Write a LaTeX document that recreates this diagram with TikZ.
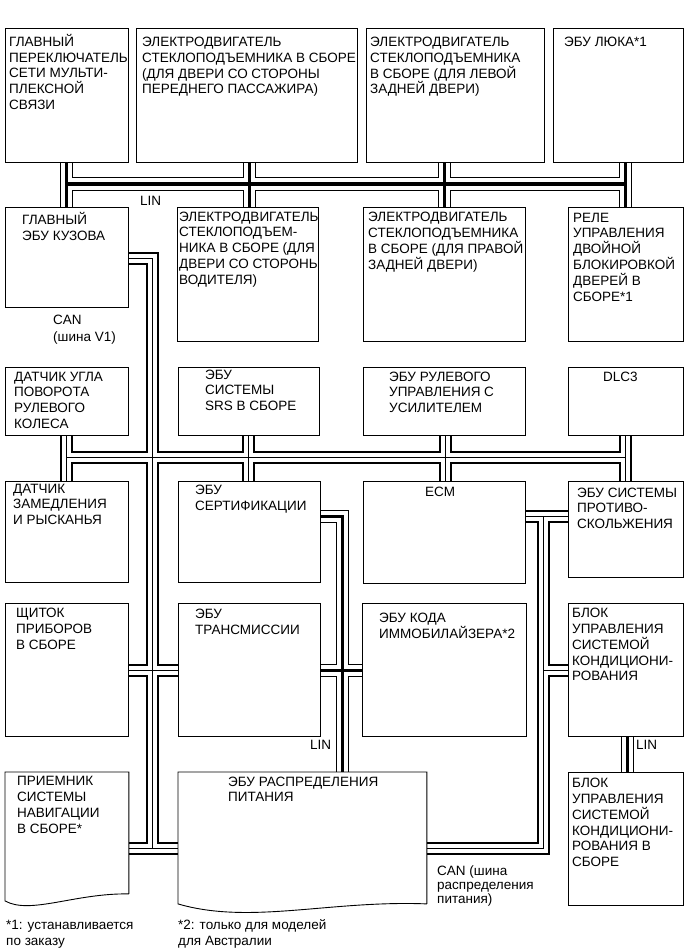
\documentclass[tikz,border=0pt]{standalone}
\usepackage{fontspec}
\setmainfont{Liberation Sans}
\usetikzlibrary{calc,backgrounds}

\begin{document}
\begin{tikzpicture}[x=1pt,y=-1pt,
  ecu/.style={draw,line width=0.9pt,fill=white,anchor=north west,inner sep=0pt},
  txt/.style={anchor=base west,align=left,inner sep=0pt,font=\fontsize{13.5}{15.8}\selectfont},
  lbl/.style={anchor=base west,align=left,inner sep=0pt,font=\fontsize{13.5}{14.2}\selectfont}]
  \useasboundingbox (0,0) rectangle (691,952);

  % boxes
  \node[ecu,minimum width=123,minimum height=134] (mpx) at (5,28) {};
  \node[ecu,minimum width=221,minimum height=134] (pwp) at (136,28) {};
  \node[ecu,minimum width=178,minimum height=134] (pwrl) at (366,28) {};
  \node[ecu,minimum width=130,minimum height=134] (sroof) at (553,28) {};

  \node[ecu,minimum width=123,minimum height=100] (bcm) at (5,207) {};
  \node[ecu,minimum width=141,minimum height=134] (pwd) at (177,207) {};
  \node[ecu,minimum width=162,minimum height=134] (pwrr) at (363,207) {};
  \node[ecu,minimum width=115,minimum height=134] (dlock) at (568,207) {};

  \node[ecu,minimum width=123,minimum height=68] (str) at (5,367) {};
  \node[ecu,minimum width=141,minimum height=68] (srs) at (178,367) {};
  \node[ecu,minimum width=162,minimum height=68] (eps) at (363,367) {};
  \node[ecu,minimum width=115,minimum height=68] (dlc) at (568,367) {};

  \node[ecu,minimum width=123,minimum height=101] (yaw) at (5,481) {};
  \node[ecu,minimum width=142,minimum height=101] (cert) at (178,481) {};
  \node[ecu,minimum width=162,minimum height=102] (ecm) at (363,481) {};
  \node[ecu,minimum width=115,minimum height=96] (vsc) at (568,481) {};

  \node[ecu,minimum width=123,minimum height=133] (meter) at (5,603) {};
  \node[ecu,minimum width=142,minimum height=133] (tcm) at (178,603) {};
  \node[ecu,minimum width=164,minimum height=133] (immo) at (362,603) {};
  \node[ecu,minimum width=115,minimum height=133] (acamp) at (568,603) {};

  \node[ecu,draw=none,minimum width=123,minimum height=121] (nav) at (5,772) {};
  \node[ecu,draw=none,minimum width=248,minimum height=131] (pdc) at (178,772) {};
  \node[ecu,minimum width=115,minimum height=133] (acunit) at (568,772) {};

  \draw[line width=0.9pt,fill=white] (nav.south east) -- (nav.north east) -- (nav.north west)
    -- ($(nav.south west)+(0,7)$) .. controls (30,915) and (75,893) .. (nav.south east);
  \draw[line width=0.9pt,fill=white] (pdc.south east) -- (pdc.north east) -- (pdc.north west)
    -- (pdc.south west) .. controls (250,925) and (330,900) .. (pdc.south east);

  % bus points
  \coordinate (lin1) at (66,184);
  \coordinate (lin2) at (249,184);
  \coordinate (lin3) at (444,184);
  \coordinate (lin4) at (625,184);
  \coordinate (v1a) at (152.5,258);
  \coordinate (v1b) at (152.5,848);
  \coordinate (v1c) at (152.5,670);
  \coordinate (can1) at (66,457);
  \coordinate (can2) at (248,457);
  \coordinate (can3) at (445,457);
  \coordinate (can4) at (625,457);
  \coordinate (lm1) at (342,516.5);
  \coordinate (lm2) at (342,670);
  \coordinate (pw1) at (543,516.5);
  \coordinate (pw2) at (543,670);
  \coordinate (pw3) at (543,848);
  \coordinate (ac1) at (627,754);

  \begin{scope}[on background layer]
    % LIN lines
    \foreach \w/\col in {13/black,11/white,3/black}
      \draw[line width=\w,\col] (mpx.south -| lin1) -- (bcm.north -| lin1)
        (lin1) -- (lin4)
        (pwp.south -| lin2) -- (pwd.north -| lin2)
        (pwrl.south -| lin3) -- (pwrr.north -| lin3)
        (sroof.south -| lin4) -- (dlock.north -| lin4)
        (cert.east |- lm1) -- (lm1) -- (pdc.north -| lm1)
        (tcm.east |- lm2) -- (immo.west |- lm2)
        (acamp.south -| ac1) -- (acunit.north -| ac1);
    % CAN lines
    \foreach \w/\col in {13/black,9/white,0.8/black}
      \draw[line width=\w,\col] (bcm.east |- v1a) -- (v1a) -- (v1b)
        (nav.east |- v1b) -- (pdc.west |- v1b)
        (meter.east |- v1c) -- (tcm.west |- v1c)
        (can1) -- (can4)
        (str.south -| can1) -- (yaw.north -| can1)
        (srs.south -| can2) -- (cert.north -| can2)
        (eps.south -| can3) -- (ecm.north -| can3)
        (dlc.south -| can4) -- (vsc.north -| can4)
        (ecm.east |- pw1) -- (vsc.west |- pw1)
        (pw1) -- (pw3) -- (pdc.east |- pw3)
        (pw2) -- (acamp.west |- pw2);
  \end{scope}

  % texts (base = last line)
  \node[txt] (tmpx) at (9,109.5) {ГЛАВНЫЙ\\ПЕРЕКЛЮЧАТЕЛЬ\\СЕТИ МУЛЬТИ-\\ПЛЕКСНОЙ\\СВЯЗИ};
  \node[txt] (tpwp) at (142,93.9) {ЭЛЕКТРОДВИГАТЕЛЬ\\СТЕКЛОПОДЪЕМНИКА В СБОРЕ\\(ДЛЯ ДВЕРИ СО СТОРОНЫ\\ПЕРЕДНЕГО ПАССАЖИРА)};
  \node[txt] (tpwrl) at (370,93.9) {ЭЛЕКТРОДВИГАТЕЛЬ\\СТЕКЛОПОДЪЕМНИКА\\В СБОРЕ (ДЛЯ ЛЕВОЙ\\ЗАДНЕЙ ДВЕРИ)};
  \node[txt] (tsroof) at (564,46.5) {ЭБУ ЛЮКА*1};
  \node[txt] (tbcm) at (22,240) {ГЛАВНЫЙ\\ЭБУ КУЗОВА};
  \begin{scope}
    \clip (pwd.north west) rectangle (pwd.south east);
    \node[txt] (tpwd) at (179,284.2) {ЭЛЕКТРОДВИГАТЕЛЬ\\СТЕКЛОПОДЪЕМ-\\НИКА В СБОРЕ (ДЛЯ\\ДВЕРИ СО СТОРОНЫ\\ВОДИТЕЛЯ)};
  \end{scope}
  \node[txt] (tpwrr) at (368,269.2) {ЭЛЕКТРОДВИГАТЕЛЬ\\СТЕКЛОПОДЪЕМНИКА\\В СБОРЕ (ДЛЯ ПРАВОЙ\\ЗАДНЕЙ ДВЕРИ)};
  \node[txt] (tdlock) at (573,301) {РЕЛЕ\\УПРАВЛЕНИЯ\\ДВОЙНОЙ\\БЛОКИРОВКОЙ\\ДВЕРЕЙ В\\СБОРЕ*1};
  \node[txt] (tstr) at (14,428.4) {ДАТЧИК УГЛА\\ПОВОРОТА\\РУЛЕВОГО\\КОЛЕСА};
  \node[txt] (tsrs) at (205,410.6) {ЭБУ\\СИСТЕМЫ\\SRS В СБОРЕ};
  \node[txt] (teps) at (389,412.6) {ЭБУ РУЛЕВОГО\\УПРАВЛЕНИЯ С\\УСИЛИТЕЛЕМ};
  \node[txt] (tdlc) at (603,381) {DLC3};
  \node[txt] (tyaw) at (13,524.6) {ДАТЧИК\\ЗАМЕДЛЕНИЯ\\И РЫСКАНЬЯ};
  \node[txt] (tcert) at (195,510.4) {ЭБУ\\СЕРТИФИКАЦИИ};
  \node[txt] (tecm) at (425,496) {ECM};
  \node[txt] (tvsc) at (577,528.6) {ЭБУ СИСТЕМЫ\\ПРОТИВО-\\СКОЛЬЖЕНИЯ};
  \node[txt] (tmeter) at (16,649.2) {ЩИТОК\\ПРИБОРОВ\\В СБОРЕ};
  \node[txt] (ttcm) at (195,634.4) {ЭБУ\\ТРАНСМИССИИ};
  \node[txt] (timmo) at (379,638) {ЭБУ КОДА\\ИММОБИЛАЙЗЕРА*2};
  \node[txt] (tacamp) at (572,680.8) {БЛОК\\УПРАВЛЕНИЯ\\СИСТЕМОЙ\\КОНДИЦИОНИ-\\РОВАНИЯ};
  \node[txt] (tnav) at (17,833) {ПРИЕМНИК\\СИСТЕМЫ\\НАВИГАЦИИ\\В СБОРЕ*};
  \node[txt] (tpdc) at (228,801.8) {ЭБУ РАСПРЕДЕЛЕНИЯ\\ПИТАНИЯ};
  \node[txt] (tacunit) at (572,866.6) {БЛОК\\УПРАВЛЕНИЯ\\СИСТЕМОЙ\\КОНДИЦИОНИ-\\РОВАНИЯ В\\СБОРЕ};

  % bus labels and notes
  \node[txt] (llin1) at (140,205.5) {LIN};
  \node[txt] (lcan1) at (53,341.8) {CAN\\[2pt](шина V1)};
  \node[txt] (llin2) at (310,749.5) {LIN};
  \node[txt] (llin3) at (636,749.5) {LIN};
  \node[lbl] (lcan2) at (437,903.7) {CAN (шина\\распределения\\питания)};
  \node[txt] (note1) at (6,945) {*1: устанавливается\\[0.2pt]по заказу};
  \node[txt] (note2) at (178,945) {*2: только для моделей\\[0.2pt]для Австралии};
\end{tikzpicture}
\end{document}
